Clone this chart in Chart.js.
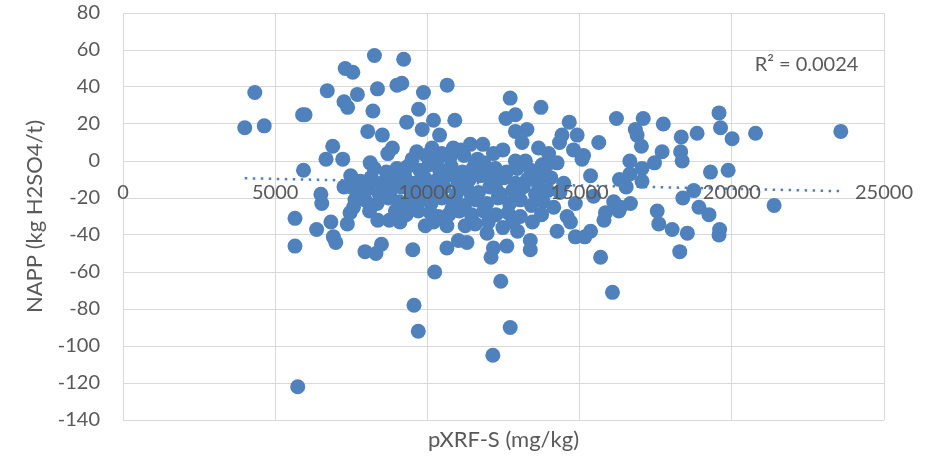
<!DOCTYPE html>
<html>
<head>
<meta charset="utf-8">
<script src="https://cdn.jsdelivr.net/npm/chart.js@4.4.0/dist/chart.umd.min.js"></script>
<style>
  html, body { margin: 0; background: #fff; }
  #wrap { width: 933px; height: 461px; }
</style>
</head>
<body>
<div id="wrap"><canvas id="chart" width="933" height="461"></canvas></div>
<script>
// pXRF-S (mg/kg) and NAPP (kg H2SO4/t), one pair per sample
const sxrf = [
  4000, 4330, 4640, 5900, 5980, 5930, 6710, 6890, 6670, 7220,
  7300, 7550, 7700, 7260, 7380, 8260, 9220, 8360, 9000, 9160,
  8210, 9320, 8040, 8520, 8850, 8700, 8120, 9870, 9710, 9830,
  10200, 10400, 10650, 10900, 9650, 10470, 10850, 12720, 12890, 12580,
  13730, 14660, 14920, 14420, 12890, 13270, 13110, 11410, 11820, 12480,
  12170, 13650, 13980, 14340, 14800, 15080, 15630, 15130, 16210, 17090,
  17750, 19580, 19630, 20010, 20780, 23580, 18860, 18340, 16830, 16890,
  17030, 17710, 18320, 18370, 16650, 17460, 14260, 13770, 11570, 11850,
  12230, 12890, 13220, 17050, 16650, 19300, 19880, 16310, 16530, 17050,
  18750, 18390, 15850, 16290, 16120, 16670, 17550, 17600, 18040, 18540,
  18920, 19250, 19600, 19580, 18290, 15690, 16080, 21390, 15360, 15460,
  14860, 16340, 5650, 5650, 6360, 6830, 6910, 6990, 7370, 7950,
  8310, 8490, 8370, 8750, 9520, 10640, 11020, 11300, 9930, 10200,
  10640, 11240, 11570, 11960, 12090, 12170, 12610, 12410, 12720, 12150,
  12480, 12960, 13380, 13380, 13450, 14260, 14860, 15170, 15360, 14700,
  14590, 10240, 9560, 9700, 5740, 6500, 6530, 7570, 7460, 7620,
  7480, 7260, 7510, 8100, 9600, 10360, 10800, 13930, 13490, 15800,
  7800, 8150, 8480, 8900, 9250, 9550, 9900, 10250, 10620, 11020,
  11380, 11750, 12150, 12520, 12900, 13280, 13650, 14050, 14480, 7700,
  8050, 8420, 8800, 9150, 9480, 9850, 10180, 10550, 10950, 11300,
  11680, 12050, 12400, 12800, 13150, 13550, 13950, 14350, 7950, 8350,
  8720, 9080, 9420, 9780, 10120, 10480, 10850, 11220, 11600, 11950,
  12320, 12700, 13050, 13420, 13800, 14150, 8650, 9000, 9350, 9750,
  10050, 10400, 10780, 11150, 11500, 11900, 12600, 12950, 13400, 13850,
  9500, 9950, 10350, 10750, 11200, 11650, 8950, 9300, 9700, 10100,
  10700, 11050, 11450, 11850, 12250, 12650, 13050, 13750, 9100, 12000,
  12800, 10350, 10950, 12250, 9650, 11450, 12950, 8250, 10150, 11100
];
const napp = [
  18, 37, 19, 25, 25, -5, 38, 8, 1, 1,
  50, 48, 36, 32, 29, 57, 55, 39, 41, 42,
  27, 21, 16, 14, 7, 4, -1, 37, 28, 17,
  22, 14, 41, 22, 5, 4, 7, 34, 25, 23,
  29, 21, 14, 14, 16, 17, 10, 9, 9, 6,
  4, 7, 4, 10, 6, 1, 10, 3, 23, 23,
  20, 26, 18, 12, 15, 16, 15, 13, 17, 14,
  8, 5, 5, 0, 0, -1, -1, -2, -1, -1,
  -4, 0, 0, -4, -7, -6, -5, -10, -14, -11,
  -16, -20, -28, -27, -22, -23, -27, -34, -37, -39,
  -25, -29, -37, -40, -49, -52, -71, -24, -8, -19,
  -23, -25, -31, -46, -37, -33, -41, -44, -34, -49,
  -50, -45, -32, -32, -48, -47, -43, -44, -35, -33,
  -35, -35, -34, -39, -52, -47, -46, -65, -90, -105,
  -36, -38, -43, -48, -33, -38, -41, -41, -38, -33,
  -30, -60, -78, -92, -122, -18, -23, -25, -28, -21,
  -8, -14, -14, -27, -25, -30, -26, -2, -8, -32,
  -11, -9, -12, -10, -8, -12, -9, -11, -8, -12,
  -10, -8, -11, -9, -12, -10, -13, -9, -12, -17,
  -15, -18, -16, -14, -18, -15, -17, -14, -18, -15,
  -17, -14, -18, -16, -14, -18, -16, -17, -21, -23,
  -20, -22, -24, -21, -23, -20, -22, -24, -21, -23,
  -20, -23, -21, -24, -22, -25, -6, -4, -3, -5,
  -2, -5, -3, -6, -4, -7, -6, -4, -5, -8,
  1, 3, 1, 2, 3, 1, -27, -29, -27, -28,
  -29, -27, -29, -27, -29, -28, -30, -29, -33, -33,
  -33, -14, -9, -15, -19, -19, -19, -4, 7, 6
];

// linear trendline end points and its label
const trendX = [4000, 23600];
const trendY = [-9.3, -16.3];
const r2Text = "R\u00B2 = 0.0024";

const xTitle = "pXRF-S (mg/kg)";
const yTitle = "NAPP (kg H2SO4/t)";

const blue = "#4F81BD";
const grid = "#D9D9D9";
const ink = "#595959";

Chart.defaults.font.family = "Lato";
Chart.defaults.color = ink;

// draws the R² label in data space, top right of the plot
const r2Label = {
  id: "r2Label",
  afterDatasetsDraw(chart) {
    const { ctx, scales } = chart;
    ctx.save();
    ctx.font = "20px Lato";
    ctx.fillStyle = ink;
    ctx.textBaseline = "middle";
    ctx.fillText(r2Text, scales.x.getPixelForValue(20750), scales.y.getPixelForValue(52));
    ctx.restore();
  }
};

new Chart(document.getElementById("chart"), {
  type: "scatter",
  data: {
    datasets: [
      {
        data: sxrf.map((x, i) => ({ x: x, y: napp[i] })),
        backgroundColor: blue,
        pointRadius: 7.5,
        pointHoverRadius: 7.5,
        pointBorderWidth: 0,
        order: 1
      },
      {
        data: trendX.map((x, i) => ({ x: x, y: trendY[i] })),
        showLine: true,
        borderColor: blue,
        borderWidth: 2.5,
        borderDash: [2.5, 5.5],
        pointRadius: 0,
        order: 2
      }
    ]
  },
  options: {
    responsive: false,
    animation: false,
    events: [],
    layout: { padding: { top: 13, right: 49, left: 0, bottom: 0 } },
    plugins: { legend: { display: false }, tooltip: { enabled: false } },
    scales: {
      x: {
        type: "linear",
        position: { y: 0 },
        min: 0,
        max: 25000,
        ticks: { stepSize: 5000, padding: 20, z: 1, font: { size: 20 }, color: ink, callback: (v) => String(v) },
        grid: { color: grid, drawTicks: false },
        border: { color: grid }
      },
      xTitle: {
        type: "linear",
        position: "bottom",
        grid: { display: false },
        border: { display: false },
        ticks: { display: false },
        title: { display: true, text: xTitle, font: { size: 22 }, color: ink, padding: { top: 0, bottom: 8 } },
        afterFit: (s) => { s.height = 41; }
      },
      y: {
        min: -140,
        max: 80,
        ticks: { stepSize: 20, padding: 23, font: { size: 20 }, color: ink },
        grid: { color: grid, drawTicks: false },
        border: { color: grid },
        title: { display: true, text: yTitle, font: { size: 22 }, color: ink, padding: { top: 22, bottom: 0 } },
        afterFit: (s) => {
          s.width = 123;
          // the label padding would otherwise push the plot top down
          s.paddingTop = 0;
          s.paddingBottom = 0;
        }
      }
    }
  },
  plugins: [r2Label]
});
</script>
</body>
</html>
